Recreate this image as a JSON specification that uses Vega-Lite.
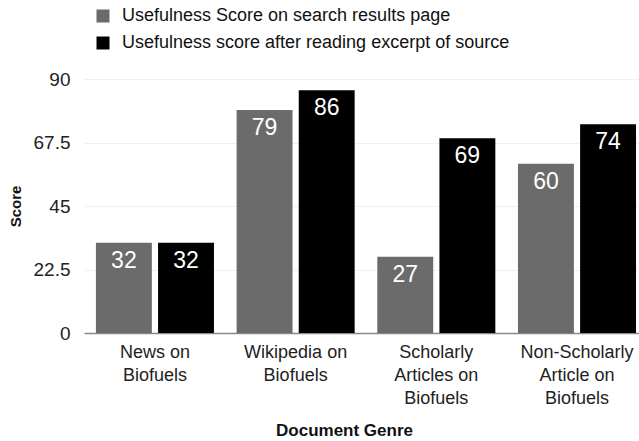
{
  "$schema": "https://vega.github.io/schema/vega-lite/v6.json",
  "width": 555,
  "height": 254,
  "autosize": {"type": "none"},
  "padding": {"left": 84, "top": 79, "right": 0, "bottom": 108},
  "background": "white",
  "config": {
    "font": "Liberation Sans",
    "view": {"stroke": null}
  },
  "data": {
    "values": [
      {"genre": "News on|Biofuels", "measure": "Usefulness Score on search results page", "score": 32},
      {"genre": "News on|Biofuels", "measure": "Usefulness score after reading excerpt of source", "score": 32},
      {"genre": "Wikipedia on|Biofuels", "measure": "Usefulness Score on search results page", "score": 79},
      {"genre": "Wikipedia on|Biofuels", "measure": "Usefulness score after reading excerpt of source", "score": 86},
      {"genre": "Scholarly|Articles on|Biofuels", "measure": "Usefulness Score on search results page", "score": 27},
      {"genre": "Scholarly|Articles on|Biofuels", "measure": "Usefulness score after reading excerpt of source", "score": 69},
      {"genre": "Non-Scholarly|Article on|Biofuels", "measure": "Usefulness Score on search results page", "score": 60},
      {"genre": "Non-Scholarly|Article on|Biofuels", "measure": "Usefulness score after reading excerpt of source", "score": 74}
    ]
  },
  "encoding": {
    "x": {
      "field": "genre",
      "type": "nominal",
      "sort": null,
      "scale": {"paddingInner": 0.161, "paddingOuter": 0.053, "align": 0.8},
      "axis": {
        "title": "Document Genre",
        "titleFontSize": 17,
        "titleFontWeight": "bold",
        "titleColor": "#111",
        "titleX": 260,
        "titleY": 97,
        "titleBaseline": "middle",
        "labelAngle": 0,
        "labelExpr": "split(datum.label, '|')",
        "labelFontSize": 18,
        "labelLineHeight": 23,
        "labelColor": "#222",
        "labelPadding": 10,
        "ticks": false,
        "domainColor": "#888",
        "domainWidth": 1.5
      }
    },
    "xOffset": {
      "field": "measure",
      "type": "nominal",
      "sort": null,
      "scale": {"paddingInner": 0.1}
    },
    "y": {
      "field": "score",
      "type": "quantitative",
      "scale": {"domain": [0, 90], "nice": false},
      "axis": {
        "title": "Score",
        "titleFontSize": 15,
        "titleFontWeight": "bold",
        "titleColor": "#111",
        "titleAngle": -90,
        "titleX": -69,
        "titleY": 127,
        "titleBaseline": "middle",
        "values": [0, 22.5, 45, 67.5, 90],
        "format": ".1~f",
        "labelFontSize": 19,
        "labelColor": "#222",
        "labelPadding": 14,
        "ticks": false,
        "domain": false,
        "gridColor": "#f0f0f0",
        "gridWidth": 1
      }
    }
  },
  "layer": [
    {
      "mark": {"type": "bar"},
      "encoding": {
        "color": {
          "field": "measure",
          "type": "nominal",
          "sort": null,
          "scale": {"range": ["#6b6b6b", "#000000"]},
          "legend": {
            "title": null,
            "orient": "none",
            "legendX": 10,
            "legendY": -72,
            "symbolType": "square",
            "symbolSize": 169,
            "symbolStrokeWidth": 0,
            "symbolOpacity": 1,
            "labelFontSize": 18,
            "labelColor": "#111",
            "labelOffset": 10,
            "rowPadding": 9,
            "labelLimit": 600
          }
        }
      }
    },
    {
      "mark": {"type": "text", "baseline": "top", "dy": 7, "color": "white", "fontSize": 23},
      "encoding": {
        "text": {"field": "score", "type": "quantitative"}
      }
    }
  ]
}
